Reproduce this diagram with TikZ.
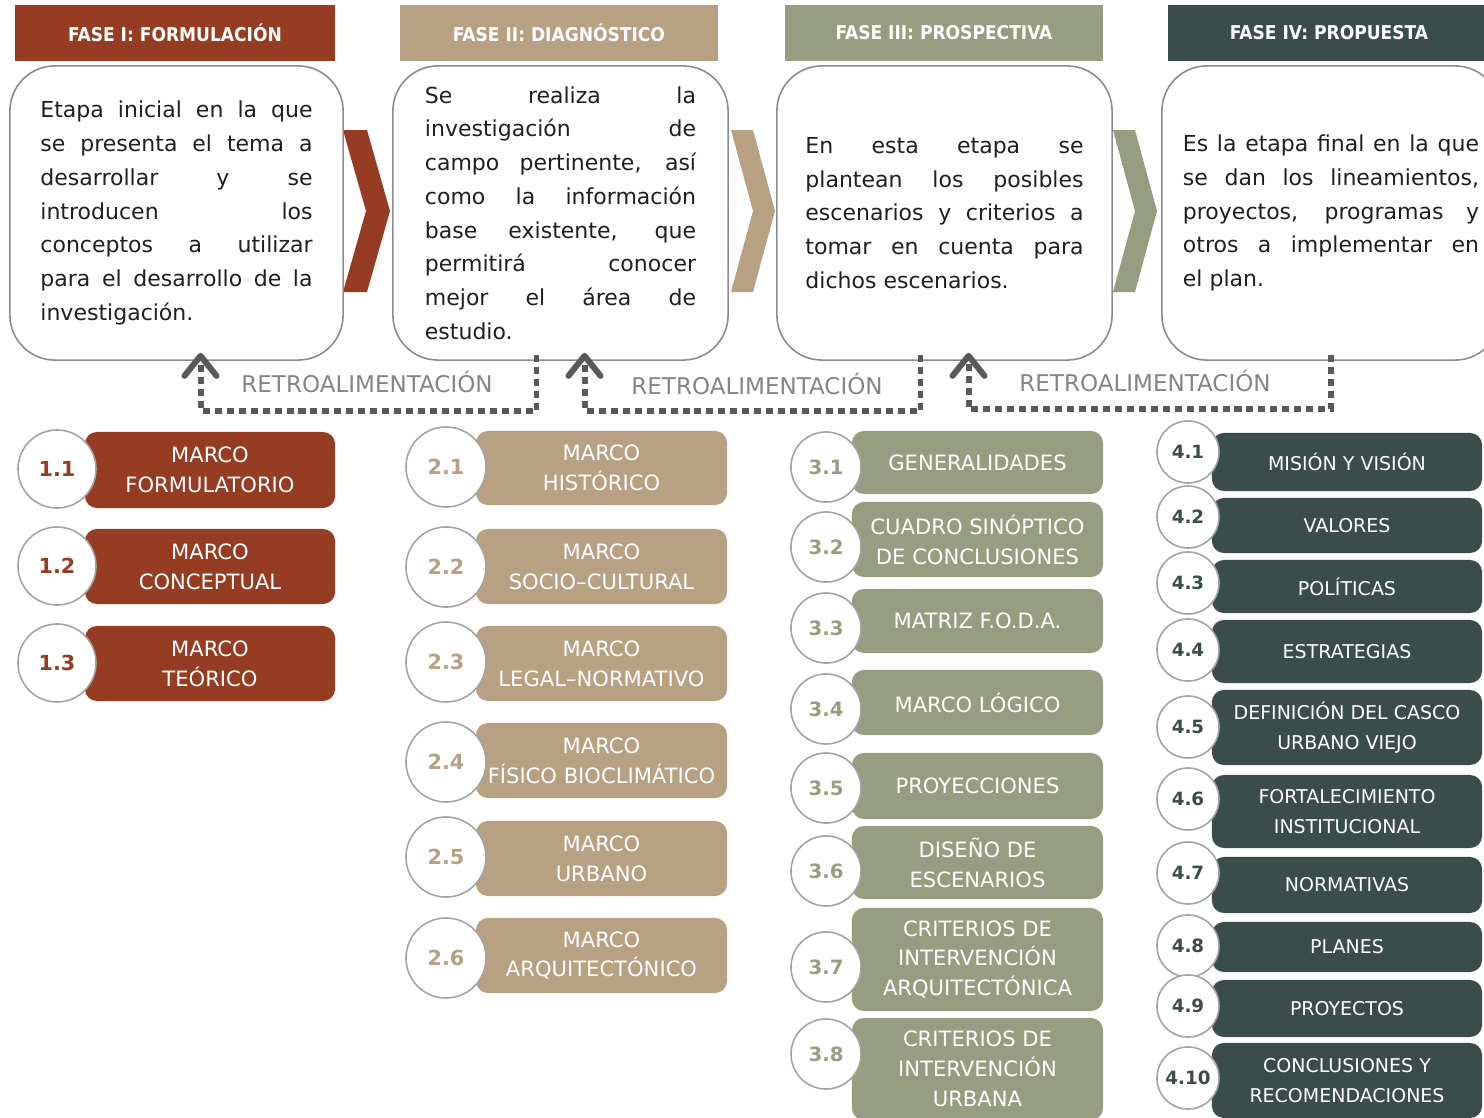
\documentclass[tikz,border=0pt]{standalone}
\usepackage{fontspec}
\setmainfont{DejaVu Sans}
\newfontfamily\headfont{DejaVu Sans Condensed}
\usepackage{tikz}
\usetikzlibrary{arrows.meta,calc}

\definecolor{faseI}{HTML}{963C22}
\definecolor{faseII}{HTML}{B8A083}
\definecolor{faseIII}{HTML}{979D80}
\definecolor{faseIV}{HTML}{3B4D4B}
\definecolor{retrogray}{HTML}{595959}
\definecolor{bordegray}{HTML}{8C8C8C}

\tikzset{
	fase/.style={text=white, minimum height=5.6mm, inner sep=0pt,
		font=\headfont\bfseries\fontsize{5.4}{6}\selectfont},
	textbox/.style={draw=bordegray, line width=0.45pt, rounded corners=4.5mm,
		fill=white, inner sep=0pt, align=justify, text=black!88,
		font=\fontsize{6.26}{9.6}\selectfont},
	marco/.style={rounded corners=1.2mm, text=white, align=center, inner sep=0pt,
		font=\fontsize{6}{8.5}\selectfont},
	num/.style={circle, draw=bordegray!80, line width=0.45pt, fill=white, inner sep=0pt,
		font=\bfseries\fontsize{5.9}{6}\selectfont},
	retro/.style={retrogray, line width=1.7pt, dash pattern=on 2pt off 1.4pt,
		-{Straight Barb[length=2mm, width=3.2mm, round]}},
	retrotext/.style={text=black!48, font=\fontsize{6.55}{7}\selectfont}
}

\begin{document}
\begin{tikzpicture}[x=0.01cm, y=-0.01cm]
	\useasboundingbox (0,0) rectangle (1484,1118);

	% fases
	\node[fase, fill=faseI, minimum width=32mm] (f1) at (175,33) {FASE I: FORMULACIÓN};
	\node[fase, fill=faseII, minimum width=31.8mm] (f2) at (559,33) {FASE II: DIAGNÓSTICO};
	\node[fase, fill=faseIII, minimum width=31.8mm] (f3) at (944,33) {FASE III: PROSPECTIVA};
	\node[fase, fill=faseIV, minimum width=32.2mm] (f4) at (1329,33) {FASE IV: PROPUESTA};

	% chevrons
	\fill[faseI] (343,130) -- (367,130) -- (390,211) -- (367,292) -- (343,292) -- (366,211) -- cycle;
	\fill[faseII] (731,130) -- (753,130) -- (775,211) -- (753,292) -- (731,292) -- (753,211) -- cycle;
	\fill[faseIII] (1113,130) -- (1135,130) -- (1157,211) -- (1135,292) -- (1113,292) -- (1135,211) -- cycle;

	% text boxes
	\node[textbox, minimum width=33.3mm, minimum height=29.4mm, text width=27.2mm] (b1) at (176.5,213) {%
		Etapa inicial en la que\linebreak
		se presenta el tema a\linebreak
		desarrollar y se\linebreak
		introducen los\linebreak
		conceptos a utilizar\linebreak
		para el desarrollo de la\linebreak
		investigación.};
	\node[textbox, minimum width=33.5mm, minimum height=29.4mm, text width=27.1mm] (b2) at (560.5,213) {%
		Se realiza la\linebreak
		investigación de\linebreak
		campo pertinente, así\linebreak
		como la información\linebreak
		base existente, que\linebreak
		permitirá conocer\linebreak
		mejor el área de\linebreak
		estudio.};
	\node[textbox, minimum width=33.5mm, minimum height=29.4mm, text width=27.8mm] (b3) at (944.5,213) {%
		En esta etapa se\linebreak
		plantean los posibles\linebreak
		escenarios y criterios a\linebreak
		tomar en cuenta para\linebreak
		dichos escenarios.};
	\node[textbox, minimum width=33.8mm, minimum height=29.4mm, text width=29.6mm] (b4) at (1331,213) {%
		Es la etapa final en la que\linebreak
		se dan los lineamientos,\linebreak
		proyectos, programas y\linebreak
		otros a implementar en\linebreak
		el plan.};

	% retroalimentacion
	\draw[retro] ([xshift=-2.4mm, yshift=0.6mm]b2.south) -- ++(0,56) -| ([xshift=2.4mm, yshift=0.8mm]b1.south);
	\draw[retro] ([xshift=-2.4mm, yshift=0.6mm]b3.south) -- ++(0,56) -| ([xshift=2.4mm, yshift=0.8mm]b2.south);
	\draw[retro] ([yshift=0.6mm]b4.south) -- ++(0,54) -| ([xshift=2.4mm, yshift=0.8mm]b3.south);
	\node[retrotext] (t1) at (367,382) {RETROALIMENTACIÓN};
	\node[retrotext] (t2) at (757,384) {RETROALIMENTACIÓN};
	\node[retrotext] (t3) at (1145,381) {RETROALIMENTACIÓN};

	% fase I
	\foreach \i/\y/\h/\cy/\txt in {1/470/7.6/469/{MARCO\\FORMULATORIO},
		2/566.5/7.5/566/{MARCO\\CONCEPTUAL},
		3/663.5/7.5/663/{MARCO\\TEÓRICO}} {
	  \node[marco, fill=faseI, minimum width=25mm, minimum height=\h mm] (m1\i) at (210,\y) {\txt};
	  \node[num, text=faseI, minimum size=7.8mm] (n1\i) at (57,\cy) {1.\i};
	}

	% fase II
	\foreach \i/\y/\h/\cy/\txt in {1/468/7.4/467/{MARCO\\HISTÓRICO},
		2/566.5/7.5/567/{MARCO\\SOCIO–CULTURAL},
		3/663.5/7.5/662/{MARCO\\LEGAL–NORMATIVO},
		4/760.5/7.5/762/{MARCO\\FÍSICO BIOCLIMÁTICO},
		5/858.5/7.5/857/{MARCO\\URBANO},
		6/955.5/7.5/958/{MARCO\\ARQUITECTÓNICO}} {
	  \node[marco, fill=faseII, minimum width=25.1mm, minimum height=\h mm] (m2\i) at (601.5,\y) {\txt};
	  \node[num, text=faseII, minimum size=8mm] (n2\i) at (446,\cy) {2.\i};
	}

	% fase III
	\foreach \i/\y/\h/\cy/\txt in {1/462.5/6.3/467/{GENERALIDADES},
		2/539.5/7.5/547/{CUADRO SINÓPTICO\\DE CONCLUSIONES},
		3/621/6.4/628/{MATRIZ F.O.D.A.},
		4/702.5/6.5/709/{MARCO LÓGICO},
		5/786/6.6/788/{PROYECCIONES},
		6/862.5/7.3/871/{DISEÑO DE\\ESCENARIOS},
		7/959.5/10.3/967/{CRITERIOS DE\\INTERVENCIÓN\\ARQUITECTÓNICA},
		8/1069/10.2/1054/{CRITERIOS DE\\INTERVENCIÓN\\URBANA}} {
	  \node[marco, fill=faseIII, minimum width=25.1mm, minimum height=\h mm] (m3\i) at (977.5,\y) {\txt};
	  \node[num, text=faseIII, minimum size=7mm,
	    font=\bfseries\fontsize{5.6}{6}\selectfont] (n3\i) at (826,\cy) {3.\i};
	}

	% fase IV
	\foreach \i/\y/\h/\cy/\txt in {1/462/5.8/452/{MISIÓN Y VISIÓN},
		2/525.5/5.5/517/{VALORES},
		3/586.5/5.3/583/{POLÍTICAS},
		4/651.5/6.3/650/{ESTRATEGIAS},
		5/727.5/7.5/727/{DEFINICIÓN DEL CASCO\\URBANO VIEJO},
		6/811.5/7.3/799/{FORTALECIMIENTO\\INSTITUCIONAL},
		7/885/5.6/873/{NORMATIVAS},
		8/947/5/946/{PLANES},
		9/1008.5/5.7/1006/{PROYECTOS},
		10/1080.5/7.5/1078/{CONCLUSIONES Y\\RECOMENDACIONES}} {
	  \node[marco, fill=faseIV, minimum width=27mm, minimum height=\h mm,
	    font=\fontsize{5.4}{8.5}\selectfont] (m4\i) at (1347,\y) {\txt};
	  \node[num, text=faseIV, minimum size=6.2mm,
	    font=\bfseries\fontsize{5.2}{6}\selectfont] (n4\i) at (1188,\cy) {4.\i};
	}
\end{tikzpicture}
\end{document}
